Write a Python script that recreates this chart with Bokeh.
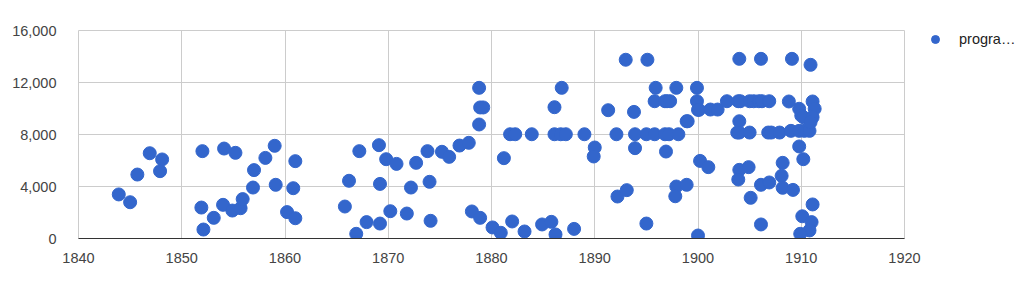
from bokeh.plotting import figure
from bokeh.models import ColumnDataSource, Legend, LegendItem, NumeralTickFormatter, FixedTicker, Range1d
from bokeh.embed import file_html
from bokeh.resources import INLINE

years = [
    1843.9, 1845.0, 1845.7, 1846.9, 1848.1, 1847.9,
    1852.0, 1851.9, 1852.1, 1853.1, 1854.1, 1854.0, 1855.2, 1854.9, 1855.7, 1855.9,
    1857.0, 1856.9, 1858.1, 1859.0, 1859.1, 1861.0, 1860.8, 1860.2, 1861.0,
    1865.8, 1866.2, 1866.9, 1867.2, 1867.9, 1869.1, 1869.2, 1869.2, 1869.8, 1870.2,
    1870.8, 1871.8, 1872.2, 1872.7, 1873.8, 1874.0, 1874.1, 1875.2, 1875.9, 1876.9,
    1877.8, 1878.1, 1878.8, 1878.8, 1878.9, 1879.2, 1878.9, 1880.1, 1880.9, 1881.2,
    1882.0, 1881.8, 1882.3, 1883.2, 1883.9,
    1884.9, 1885.8, 1886.2, 1886.1, 1886.8, 1886.1, 1886.7, 1887.2, 1888.0, 1889.0,
    1890.0, 1889.9, 1891.3, 1892.1, 1892.2, 1893.0, 1893.1, 1893.8, 1893.9, 1893.9,
    1895.1, 1895.0, 1895.0, 1895.8, 1895.9, 1895.8, 1896.8, 1897.0, 1897.3, 1896.8,
    1897.2, 1896.9, 1897.9, 1898.1, 1897.9, 1897.8, 1898.9, 1898.9, 1899.0, 1899.9,
    1899.9, 1900.0, 1900.1, 1900.2, 1901.0, 1900.0, 1901.2, 1901.9,
    1902.8, 1903.9, 1904.1, 1904.0, 1904.0, 1903.8, 1904.0, 1905.0,
    1905.0, 1905.4, 1905.9, 1906.2, 1906.9, 1906.1,
    1904.0, 1903.9, 1904.9, 1905.1, 1906.1, 1906.1, 1906.9, 1906.8, 1907.1, 1907.9,
    1908.2, 1908.1, 1908.2, 1909.2, 1908.8, 1909.1, 1909.0, 1909.8, 1910.3, 1910.8,
    1909.8, 1910.2, 1909.8, 1910.0, 1910.2, 1910.9, 1911.1, 1911.3, 1911.1, 1910.9,
    1911.1, 1910.1, 1911.0, 1910.8, 1909.9,
]
programs = [
    3390, 2790, 4920, 6560, 6080, 5180,
    6720, 2380, 690, 1590, 6920, 2590, 6590, 2150, 2330, 3030,
    5260, 3920, 6200, 7130, 4130, 5950, 3870, 2030, 1560,
    2460, 4440, 360, 6720, 1260, 7180, 4200, 1150, 6100, 2100,
    5740, 1920, 3920, 5820, 6720, 4360, 1360, 6670, 6280, 7150,
    7360, 2080, 8770, 11590, 10080, 10080, 1590, 850, 440, 6180,
    1310, 8020, 8020, 540, 8020,
    1080, 1280, 310, 10100, 11590, 8020, 8020, 8020, 740, 8020,
    7000, 6310, 9870, 8020, 3230, 13750, 3720, 9740, 8020, 6950,
    13750, 8020, 1150, 8020, 11590, 10560, 10560, 10560, 10560, 8020,
    8020, 6690, 11590, 8020, 4000, 3250, 4130, 9020, 9020, 11590,
    10560, 9900, 9900, 5970, 5490, 230, 9920, 9920,
    10560, 10560, 10560, 13820, 9020, 8150, 8150, 8150,
    10560, 10560, 10560, 10560, 10560, 13820,
    5280, 4540, 5490, 3130, 1080, 4130, 4310, 8150, 8150, 8150,
    5820, 4820, 3900, 3740, 10540, 13820, 8280, 8280, 8280, 8280,
    7080, 6100, 9980, 9460, 9330, 13360, 10540, 9980, 9330, 8950,
    2620, 1710, 1260, 620, 360,
]
x_ticks = [1840, 1850, 1860, 1870, 1880, 1890, 1900, 1910, 1920]
y_ticks = [0, 4000, 8000, 12000, 16000]
series_name = "progra\u2026"

src = ColumnDataSource(dict(x=years, y=programs))

p = figure(frame_width=826, frame_height=208, output_backend="svg", toolbar_location=None,
           x_range=Range1d(1840, 1920), y_range=Range1d(0, 16000))
p.min_border_left = 78
p.min_border_right = 120
p.min_border_top = 30
p.min_border_bottom = 52
p.background_fill_color = "white"
p.border_fill_color = "white"
p.outline_line_color = "#cccccc"

r = p.scatter("x", "y", source=src, size=13, color="#3366cc", line_color="#3366cc")

font = "Liberation Sans"
p.xaxis.ticker = FixedTicker(ticks=x_ticks)
p.yaxis.ticker = FixedTicker(ticks=y_ticks)
p.yaxis.formatter = NumeralTickFormatter(format="0,0")
for ax in (p.xaxis[0], p.yaxis[0]):
    ax.major_label_text_font = font
    ax.major_label_text_font_size = "14.5px"
    ax.major_label_text_color = "#444444"
    ax.major_tick_line_color = None
    ax.minor_tick_line_color = None
p.xaxis.axis_line_color = "#333333"
p.yaxis.axis_line_color = None
p.xaxis.major_label_standoff = 8
p.yaxis.major_label_standoff = 16
p.xgrid.grid_line_color = "#cccccc"
p.ygrid.grid_line_color = "#cccccc"
p.xgrid.ticker = FixedTicker(ticks=x_ticks)
p.ygrid.ticker = FixedTicker(ticks=y_ticks)

legend = Legend(items=[LegendItem(label=series_name, renderers=[r])], location=(21, 189))
legend.label_text_font = font
legend.label_text_font_size = "14.5px"
legend.label_text_color = "#222222"
legend.border_line_color = None
legend.background_fill_alpha = 0
legend.glyph_width = 20
legend.glyph_height = 20
legend.label_standoff = 14
legend.padding = 0
legend.margin = 0
legend.spacing = 0
p.add_layout(legend, "right")

open("out.html", "w").write(file_html(p, INLINE))
